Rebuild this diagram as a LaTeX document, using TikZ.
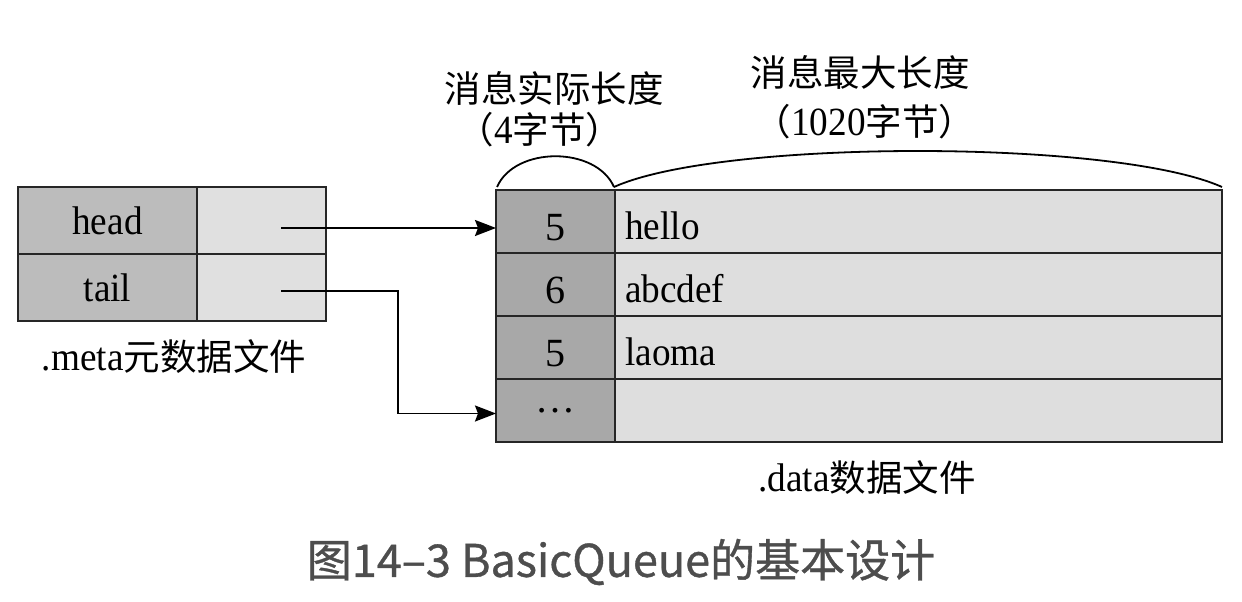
\documentclass[tikz,border=0pt]{standalone}
\usepackage{graphicx}
\usepackage{fontspec}
\setmainfont{Liberation Serif}
\newfontfamily\cjk{Noto Sans CJK SC}
\newfontfamily\cjkcap[FakeBold=0.8]{Noto Sans CJK SC}
\usetikzlibrary{arrows.meta}
\definecolor{metaK}{HTML}{BCBCBC}
\definecolor{metaV}{HTML}{E0E0E0}
\definecolor{dataK}{HTML}{A8A8A8}
\definecolor{dataV}{HTML}{DEDEDE}
\definecolor{capcol}{HTML}{4D4D4D}
\newcommand{\nx}[1]{\scalebox{0.93}[1]{#1}}
\tikzset{
  cell/.style={draw=black!85, line width=2.2pt, inner sep=0pt, outer sep=0pt,
    font=\fontsize{40}{42}\selectfont},
  mkey/.style={cell, fill=metaK, minimum width=179pt, minimum height=67pt},
  mval/.style={cell, fill=metaV, minimum width=129pt, minimum height=67pt},
  dkey/.style={cell, fill=dataK, minimum width=119pt, minimum height=63pt},
  dnum/.style={dkey, text height=37pt, text depth=0pt},
  dval/.style={cell, fill=dataV, minimum width=607pt, minimum height=63pt},
  lbl/.style={inner sep=0pt, font=\fontsize{40}{42}\selectfont},
  cjklbl/.style={inner sep=0pt, font=\fontsize{36.5}{40}\selectfont\cjk},
  ptr/.style={line width=1.8pt, -{Stealth[length=21pt,width=16pt,inset=3pt]}},
  brace/.style={line width=1.8pt}
}
\begin{document}
\begin{tikzpicture}[x=1pt,y=-1pt]
\useasboundingbox[fill=white] (0,0) rectangle (1242,602);
% meta table
\node[mkey] (mhk) at (107.5,220.5) {\nx{head}};
\node[mval] (mhv) at (261.5,220.5) {};
\node[mkey] (mtk) at (107.5,287.5) {\nx{tail}};
\node[mval] (mtv) at (261.5,287.5) {};
\node[lbl] (mlbl) at (174,357) {\nx{.meta}{\cjk\fontsize{36.5}{40}\selectfont 元数据文件}};
% data table
\node[dnum] (d1k) at (555.5,221.5) {5};
\node[dval] (d1v) at (918.5,221.5) {};
\node[dnum] (d2k) at (555.5,284.5) {6};
\node[dval] (d2v) at (918.5,284.5) {};
\node[dnum] (d3k) at (555.5,347.5) {5};
\node[dval] (d3v) at (918.5,347.5) {};
\node[dkey] (d4k) at (555.5,410.5) {\dots};
\node[dval] (d4v) at (918.5,410.5) {};
\node[lbl, anchor=west] (t1) at ([xshift=10pt,yshift=-4pt]d1v.west) {\nx{hello}};
\node[lbl, anchor=west] (t2) at ([xshift=10pt,yshift=-4pt]d2v.west) {\nx{abcdef}};
\node[lbl, anchor=west] (t3) at ([xshift=10pt,yshift=-4pt]d3v.west) {\nx{laoma}};
\node[lbl] (dlbl) at (867,478) {\nx{.data}{\cjk\fontsize{36.5}{40}\selectfont 数据文件}};
% pointers
\coordinate (hs) at (281,228);
\coordinate (ts) at (281,291);
\coordinate (tb) at (398,291);
\draw[ptr] (hs) -- (hs -| d1k.west);
\draw[ptr] (ts) -- (tb) |- ([yshift=-3pt]d4k.west);
% braces
\coordinate (a1) at (497,187);
\coordinate (a2) at (614,187);
\coordinate (a3) at (1222,187);
\draw[brace] (a1) .. controls (515,146) and (596,146) .. (a2);
\draw[brace] (a2) .. controls (720,139) and (1115,139) .. (a3);
% labels above
\node[cjklbl] (l1) at (554,88) {消息实际长度};
\node[cjklbl] (l2) at (540,130) {（{\rmfamily\fontsize{40}{42}\selectfont\nx{4}}字节）};
\node[cjklbl] (l3) at (860,72) {消息最大长度};
\node[cjklbl] (l4) at (865,122) {（{\rmfamily\fontsize{40}{42}\selectfont\nx{1020}}字节）};
% caption
\node[inner sep=0pt, text=capcol, font=\fontsize{45}{48}\selectfont\cjkcap] (cap) at (621,562) {图14–3 BasicQueue的基本设计};
\end{tikzpicture}
\end{document}
